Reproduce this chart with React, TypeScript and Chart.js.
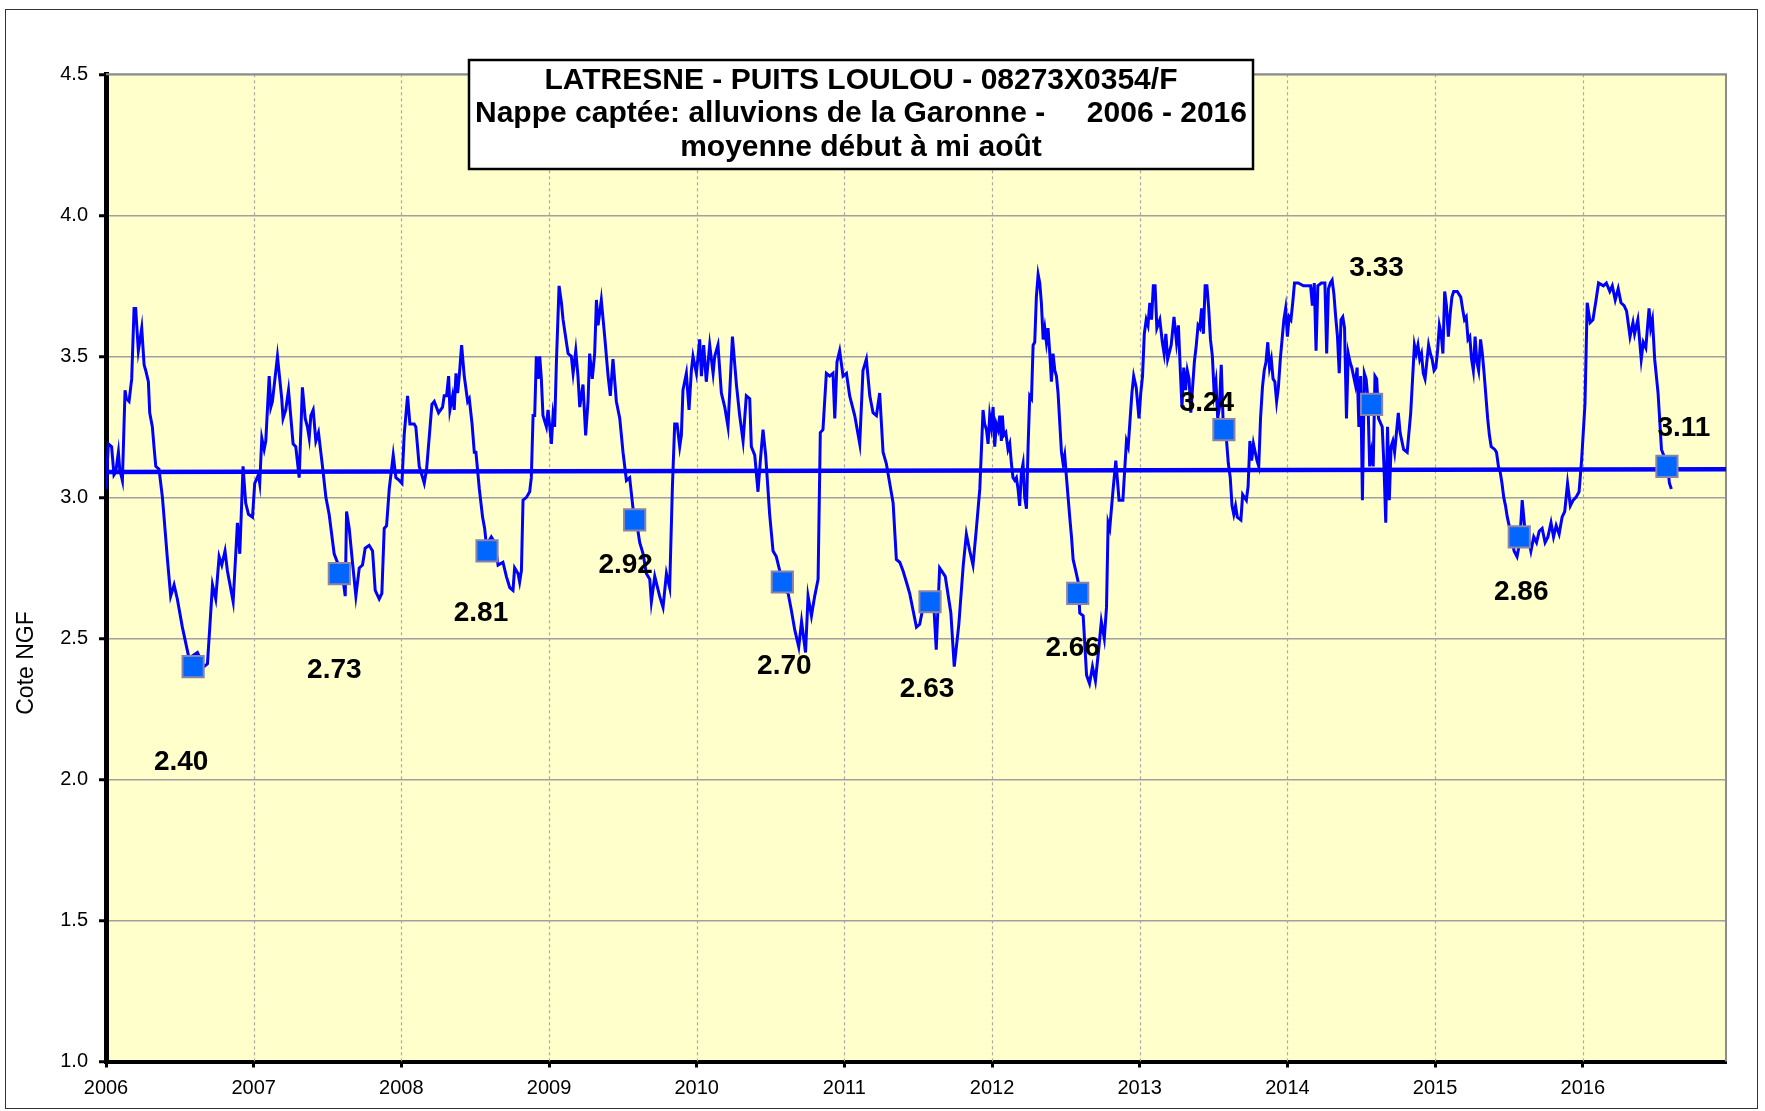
import React, { useEffect, useRef } from 'react';
import { Chart, registerables } from 'chart.js';

Chart.register(...registerables);

// ---- groundwater level series (decimal year, NGF level) ----
const levels2006: [number, number][] = [
  [2006.000, 3.03], [2006.016, 3.19], [2006.038, 3.18], [2006.054, 3.08], [2006.066, 3.09],
  [2006.084, 3.16], [2006.093, 3.10], [2006.111, 3.06], [2006.129, 3.38], [2006.138, 3.35],
  [2006.156, 3.34], [2006.174, 3.42], [2006.190, 3.67], [2006.201, 3.67], [2006.219, 3.52],
  [2006.228, 3.55], [2006.242, 3.60], [2006.258, 3.47], [2006.269, 3.45], [2006.287, 3.41],
  [2006.296, 3.30], [2006.314, 3.25], [2006.325, 3.18], [2006.337, 3.11], [2006.359, 3.10],
  [2006.382, 3.00], [2006.393, 2.93], [2006.416, 2.78], [2006.438, 2.65], [2006.461, 2.69],
  [2006.483, 2.64], [2006.517, 2.54], [2006.562, 2.43], [2006.619, 2.45], [2006.664, 2.40],
  [2006.687, 2.41], [2006.721, 2.69], [2006.743, 2.64], [2006.766, 2.79], [2006.784, 2.76],
  [2006.806, 2.81], [2006.822, 2.74], [2006.861, 2.63], [2006.890, 2.91], [2006.906, 2.80],
  [2006.928, 3.11], [2006.946, 2.98], [2006.965, 2.94], [2006.992, 2.93],
];
const levels2007: [number, number][] = [
  [2007.007, 3.05], [2007.032, 3.08], [2007.041, 3.05], [2007.055, 3.21], [2007.071, 3.17],
  [2007.082, 3.20], [2007.105, 3.43], [2007.116, 3.32], [2007.127, 3.34], [2007.161, 3.50],
  [2007.190, 3.35], [2007.199, 3.28], [2007.217, 3.31], [2007.236, 3.38], [2007.267, 3.19],
  [2007.285, 3.18], [2007.308, 3.07], [2007.330, 3.39], [2007.349, 3.28], [2007.364, 3.25],
  [2007.376, 3.21], [2007.387, 3.29], [2007.403, 3.31], [2007.421, 3.20], [2007.439, 3.23],
  [2007.466, 3.11], [2007.489, 3.00], [2007.511, 2.94], [2007.545, 2.80], [2007.574, 2.76],
  [2007.597, 2.74], [2007.620, 2.65], [2007.629, 2.95], [2007.647, 2.89], [2007.669, 2.77],
  [2007.692, 2.65], [2007.715, 2.75], [2007.737, 2.76], [2007.755, 2.82], [2007.782, 2.83],
  [2007.805, 2.81], [2007.823, 2.67], [2007.850, 2.64], [2007.868, 2.66], [2007.884, 2.89],
  [2007.900, 2.90], [2007.918, 3.03], [2007.945, 3.15], [2007.963, 3.07], [2007.986, 3.06],
];
const levels2008: [number, number][] = [
  [2008.004, 3.05], [2008.019, 3.22], [2008.042, 3.36], [2008.058, 3.26], [2008.087, 3.26],
  [2008.098, 3.25], [2008.121, 3.11], [2008.144, 3.07], [2008.155, 3.05], [2008.171, 3.10],
  [2008.207, 3.33], [2008.223, 3.34], [2008.252, 3.30], [2008.279, 3.32], [2008.290, 3.36],
  [2008.306, 3.36], [2008.320, 3.43], [2008.329, 3.31], [2008.347, 3.36], [2008.358, 3.31],
  [2008.370, 3.44], [2008.381, 3.37], [2008.392, 3.43], [2008.408, 3.54], [2008.426, 3.43],
  [2008.449, 3.34], [2008.460, 3.35], [2008.479, 3.26], [2008.494, 3.16], [2008.505, 3.16],
  [2008.528, 3.03], [2008.550, 2.93], [2008.564, 2.89], [2008.576, 2.83], [2008.609, 2.86],
  [2008.632, 2.84], [2008.655, 2.76], [2008.688, 2.77], [2008.711, 2.72], [2008.734, 2.68],
  [2008.756, 2.67], [2008.767, 2.75], [2008.790, 2.73], [2008.801, 2.70], [2008.813, 2.74],
  [2008.824, 2.99], [2008.847, 3.00], [2008.869, 3.02], [2008.880, 3.07], [2008.892, 3.29],
  [2008.903, 3.29], [2008.914, 3.50], [2008.926, 3.42], [2008.937, 3.50], [2008.948, 3.42],
  [2008.959, 3.29], [2008.982, 3.25], [2008.993, 3.31],
];
const levels2009: [number, number][] = [
  [2009.005, 3.25], [2009.016, 3.19], [2009.027, 3.29], [2009.038, 3.25], [2009.050, 3.48],
  [2009.068, 3.75], [2009.084, 3.69], [2009.095, 3.63], [2009.129, 3.51], [2009.151, 3.50],
  [2009.163, 3.44], [2009.181, 3.52], [2009.196, 3.43], [2009.208, 3.32], [2009.230, 3.40],
  [2009.248, 3.22], [2009.264, 3.34], [2009.275, 3.51], [2009.293, 3.42], [2009.309, 3.51],
  [2009.321, 3.70], [2009.332, 3.61], [2009.354, 3.70], [2009.377, 3.57], [2009.400, 3.43],
  [2009.415, 3.36], [2009.433, 3.49], [2009.456, 3.34], [2009.479, 3.28], [2009.501, 3.16],
  [2009.524, 3.06], [2009.546, 3.07], [2009.569, 2.96], [2009.591, 2.92], [2009.614, 2.84],
  [2009.637, 2.80], [2009.659, 2.73], [2009.682, 2.71], [2009.693, 2.63], [2009.716, 2.72],
  [2009.749, 2.65], [2009.772, 2.61], [2009.795, 2.73], [2009.817, 2.68], [2009.835, 3.03],
  [2009.851, 3.26], [2009.867, 3.26], [2009.885, 3.18], [2009.896, 3.22], [2009.907, 3.38],
  [2009.930, 3.44], [2009.948, 3.31], [2009.964, 3.45], [2009.975, 3.50], [2009.998, 3.44],
];
const levels2010: [number, number][] = [
  [2010.020, 3.56], [2010.032, 3.43], [2010.047, 3.54], [2010.065, 3.41], [2010.088, 3.54],
  [2010.111, 3.44], [2010.122, 3.50], [2010.144, 3.54], [2010.167, 3.37], [2010.190, 3.32],
  [2010.212, 3.25], [2010.242, 3.57], [2010.269, 3.40], [2010.291, 3.29], [2010.314, 3.20],
  [2010.336, 3.36], [2010.359, 3.35], [2010.370, 3.18], [2010.393, 3.15], [2010.415, 3.02],
  [2010.431, 3.13], [2010.449, 3.24], [2010.467, 3.15], [2010.494, 2.94], [2010.517, 2.81],
  [2010.539, 2.79], [2010.562, 2.74], [2010.596, 2.67], [2010.619, 2.66], [2010.641, 2.60],
  [2010.664, 2.53], [2010.691, 2.47], [2010.710, 2.56], [2010.737, 2.45], [2010.754, 2.65],
  [2010.777, 2.58], [2010.799, 2.65], [2010.822, 2.71], [2010.837, 3.23], [2010.855, 3.24],
  [2010.878, 3.44], [2010.901, 3.43], [2010.923, 3.44], [2010.935, 3.28], [2010.950, 3.48],
  [2010.968, 3.52], [2010.991, 3.43],
];
const levels2011: [number, number][] = [
  [2011.014, 3.44], [2011.036, 3.36], [2011.070, 3.29], [2011.104, 3.19], [2011.126, 3.45],
  [2011.149, 3.49], [2011.172, 3.36], [2011.194, 3.30], [2011.217, 3.29], [2011.239, 3.37],
  [2011.262, 3.16], [2011.284, 3.12], [2011.307, 3.05], [2011.330, 2.98], [2011.352, 2.78],
  [2011.375, 2.77], [2011.397, 2.74], [2011.420, 2.70], [2011.442, 2.66], [2011.465, 2.60],
  [2011.488, 2.54], [2011.510, 2.55], [2011.544, 2.64], [2011.601, 2.66], [2011.622, 2.46],
  [2011.645, 2.75], [2011.683, 2.72], [2011.721, 2.59], [2011.744, 2.40], [2011.775, 2.55],
  [2011.805, 2.76], [2011.826, 2.87], [2011.849, 2.81], [2011.871, 2.76], [2011.894, 2.89],
  [2011.917, 3.03], [2011.939, 3.31], [2011.950, 3.26], [2011.962, 3.24], [2011.973, 3.19],
  [2011.984, 3.29], [2011.995, 3.25],
];
const levels2012: [number, number][] = [
  [2012.007, 3.32], [2012.018, 3.18], [2012.029, 3.26], [2012.041, 3.24], [2012.052, 3.29],
  [2012.063, 3.20], [2012.070, 3.29], [2012.079, 3.22], [2012.093, 3.23], [2012.108, 3.17],
  [2012.120, 3.19], [2012.131, 3.12], [2012.142, 3.07], [2012.154, 3.06], [2012.165, 3.07],
  [2012.176, 3.03], [2012.187, 2.97], [2012.199, 3.09], [2012.210, 3.12], [2012.221, 3.00],
  [2012.233, 2.96], [2012.244, 3.18], [2012.255, 3.36], [2012.267, 3.35], [2012.278, 3.54],
  [2012.289, 3.55], [2012.300, 3.71], [2012.312, 3.79], [2012.323, 3.76], [2012.334, 3.69],
  [2012.346, 3.56], [2012.357, 3.60], [2012.368, 3.55], [2012.379, 3.60], [2012.391, 3.51],
  [2012.402, 3.41], [2012.413, 3.51], [2012.425, 3.45], [2012.436, 3.43], [2012.447, 3.37],
  [2012.459, 3.26], [2012.470, 3.16], [2012.481, 3.12], [2012.492, 3.15], [2012.504, 3.07],
  [2012.515, 3.00], [2012.526, 2.93], [2012.538, 2.86], [2012.549, 2.78], [2012.571, 2.73],
  [2012.583, 2.70], [2012.594, 2.59], [2012.617, 2.58], [2012.640, 2.37], [2012.660, 2.34],
  [2012.680, 2.40], [2012.700, 2.35], [2012.720, 2.45], [2012.740, 2.56], [2012.760, 2.50],
  [2012.775, 2.61], [2012.786, 2.91], [2012.797, 2.89], [2012.820, 3.03], [2012.838, 3.13],
  [2012.860, 2.99], [2012.886, 2.99], [2012.910, 3.20], [2012.922, 3.18], [2012.947, 3.37],
  [2012.959, 3.43], [2012.976, 3.39], [2012.995, 3.28],
];
const levels2013: [number, number][] = [
  [2013.007, 3.37], [2013.019, 3.43], [2013.031, 3.58], [2013.044, 3.63], [2013.056, 3.61],
  [2013.068, 3.69], [2013.080, 3.63], [2013.092, 3.75], [2013.104, 3.75], [2013.116, 3.60],
  [2013.136, 3.63], [2013.153, 3.55], [2013.165, 3.51], [2013.177, 3.58], [2013.189, 3.49],
  [2013.213, 3.54], [2013.232, 3.64], [2013.249, 3.55], [2013.262, 3.61], [2013.274, 3.46],
  [2013.286, 3.32], [2013.298, 3.46], [2013.310, 3.38], [2013.322, 3.45], [2013.334, 3.42],
  [2013.346, 3.30], [2013.358, 3.39], [2013.370, 3.48], [2013.383, 3.54], [2013.395, 3.61],
  [2013.407, 3.60], [2013.419, 3.67], [2013.431, 3.58], [2013.443, 3.75], [2013.455, 3.75],
  [2013.467, 3.67], [2013.479, 3.56], [2013.492, 3.50], [2013.504, 3.37], [2013.516, 3.41],
  [2013.528, 3.28], [2013.540, 3.32], [2013.552, 3.47], [2013.564, 3.28], [2013.576, 3.24],
  [2013.588, 3.20], [2013.600, 3.12], [2013.613, 3.07], [2013.625, 2.97], [2013.637, 2.94],
  [2013.649, 2.97], [2013.661, 2.93], [2013.685, 2.92], [2013.697, 3.01], [2013.722, 2.99],
  [2013.734, 3.04], [2013.746, 3.20], [2013.758, 3.13], [2013.770, 3.19], [2013.782, 3.16],
  [2013.794, 3.13], [2013.806, 3.11], [2013.818, 3.28], [2013.831, 3.39], [2013.843, 3.45],
  [2013.855, 3.48], [2013.867, 3.55], [2013.879, 3.46], [2013.891, 3.49], [2013.903, 3.42],
  [2013.915, 3.41], [2013.927, 3.34], [2013.939, 3.39], [2013.952, 3.49], [2013.964, 3.56],
  [2013.976, 3.63], [2013.988, 3.67],
];
const levels2014: [number, number][] = [
  [2014.000, 3.57], [2014.012, 3.64], [2014.024, 3.63], [2014.036, 3.69], [2014.048, 3.76],
  [2014.073, 3.76], [2014.109, 3.75], [2014.133, 3.75], [2014.157, 3.75], [2014.169, 3.68],
  [2014.182, 3.76], [2014.194, 3.52], [2014.206, 3.75], [2014.230, 3.76], [2014.254, 3.76],
  [2014.266, 3.51], [2014.278, 3.74], [2014.291, 3.76], [2014.303, 3.77], [2014.315, 3.72],
  [2014.327, 3.64], [2014.339, 3.57], [2014.351, 3.44], [2014.363, 3.63], [2014.375, 3.64],
  [2014.387, 3.60], [2014.400, 3.28], [2014.412, 3.51], [2014.424, 3.48], [2014.436, 3.46],
  [2014.448, 3.43], [2014.460, 3.40], [2014.472, 3.46], [2014.484, 3.25], [2014.496, 3.43],
  [2014.508, 2.99], [2014.521, 3.44], [2014.533, 3.42], [2014.545, 3.35], [2014.557, 3.11],
  [2014.569, 3.16], [2014.581, 3.11], [2014.593, 3.43], [2014.605, 3.42], [2014.617, 3.28],
  [2014.642, 3.25], [2014.654, 3.11], [2014.666, 2.91], [2014.678, 3.25], [2014.690, 2.99],
  [2014.702, 3.18], [2014.714, 3.20], [2014.726, 3.16], [2014.751, 3.30], [2014.763, 3.23],
  [2014.787, 3.17], [2014.811, 3.16], [2014.835, 3.30], [2014.860, 3.54], [2014.872, 3.51],
  [2014.884, 3.54], [2014.896, 3.49], [2014.908, 3.51], [2014.920, 3.44], [2014.932, 3.42],
  [2014.956, 3.54], [2014.968, 3.51], [2014.980, 3.49], [2014.993, 3.45],
];
const levels2015: [number, number][] = [
  [2015.005, 3.46], [2015.017, 3.52], [2015.029, 3.61], [2015.041, 3.58], [2015.053, 3.51],
  [2015.065, 3.73], [2015.077, 3.68], [2015.090, 3.57], [2015.102, 3.65], [2015.114, 3.71],
  [2015.126, 3.73], [2015.150, 3.73], [2015.174, 3.71], [2015.186, 3.67], [2015.199, 3.63],
  [2015.211, 3.64], [2015.223, 3.56], [2015.235, 3.57], [2015.247, 3.49], [2015.259, 3.45],
  [2015.271, 3.57], [2015.283, 3.48], [2015.295, 3.45], [2015.308, 3.56], [2015.320, 3.51],
  [2015.332, 3.44], [2015.344, 3.36], [2015.356, 3.28], [2015.368, 3.22], [2015.380, 3.18],
  [2015.404, 3.17], [2015.416, 3.16], [2015.429, 3.11], [2015.441, 3.09], [2015.453, 3.05],
  [2015.465, 3.00], [2015.477, 2.97], [2015.489, 2.93], [2015.510, 2.88], [2015.535, 2.81],
  [2015.555, 2.79], [2015.573, 2.84], [2015.590, 2.99], [2015.611, 2.87], [2015.630, 2.86],
  [2015.649, 2.81], [2015.668, 2.86], [2015.687, 2.84], [2015.705, 2.88], [2015.725, 2.89],
  [2015.745, 2.84], [2015.764, 2.86], [2015.785, 2.91], [2015.802, 2.86], [2015.820, 2.90],
  [2015.840, 2.87], [2015.860, 2.93], [2015.878, 2.95], [2015.897, 3.05], [2015.916, 2.97],
  [2015.935, 2.99], [2015.954, 3.00], [2015.975, 3.02], [2015.992, 3.13],
];
const levels2016: [number, number][] = [
  [2016.015, 3.33], [2016.030, 3.69], [2016.050, 3.62], [2016.069, 3.63], [2016.090, 3.70],
  [2016.107, 3.76], [2016.140, 3.75], [2016.160, 3.76], [2016.183, 3.73], [2016.200, 3.75],
  [2016.220, 3.70], [2016.240, 3.74], [2016.259, 3.69], [2016.280, 3.68], [2016.297, 3.66],
  [2016.320, 3.57], [2016.340, 3.62], [2016.351, 3.58], [2016.373, 3.63], [2016.396, 3.49],
  [2016.410, 3.55], [2016.427, 3.53], [2016.449, 3.67], [2016.460, 3.60], [2016.472, 3.63],
  [2016.487, 3.49], [2016.510, 3.37], [2016.533, 3.17], [2016.555, 3.14], [2016.575, 3.11],
  [2016.587, 3.05], [2016.600, 3.03],
];

// ---- early/mid August averages ----
const augustDates = [2006.59, 2007.58, 2008.58, 2009.58, 2010.58, 2011.58, 2012.58, 2013.57, 2014.57, 2015.57, 2016.57];
const augustValues = [2.40, 2.73, 2.81, 2.92, 2.70, 2.63, 2.66, 3.24, 3.33, 2.86, 3.11];

// ---- reference (mean) line ----
const meanDates = [2006.0, 2016.97];
const meanValues = [3.09, 3.10];

// ---- axes ----
const yearTicks = [2006, 2007, 2008, 2009, 2010, 2011, 2012, 2013, 2014, 2015, 2016];
const levelTicks = [1.0, 1.5, 2.0, 2.5, 3.0, 3.5, 4.0, 4.5];
const xMin = 2006;
const xMax = 2016.97;

const titleLines = [
  'LATRESNE - PUITS LOULOU - 08273X0354/F',
  'Nappe captée: alluvions de la Garonne -     2006 - 2016',
  'moyenne début à mi août',
];
const yAxisTitle = 'Cote NGF';

// label placement offsets (pixels) relative to each August marker
const labelOffsets: [number, number][] = [
  [-12, 96], [-5, 97], [-6, 62], [-9, 45], [2, 84], [-3, 88], [-5, 55], [-17, -26], [5, -136], [2, 55], [17, -38],
];

const FONT = '"Liberation Sans", Arial, sans-serif';

const decorPlugin = {
  id: 'decor',
  beforeDraw(chart: any) {
    const { ctx, chartArea, width, height } = chart;
    ctx.save();
    ctx.fillStyle = '#FFFFFF';
    ctx.fillRect(0, 0, width, height);
    ctx.fillStyle = '#FFFFCC';
    ctx.fillRect(chartArea.left, chartArea.top, chartArea.right - chartArea.left, chartArea.bottom - chartArea.top);
    ctx.restore();
  },
  beforeDatasetsDraw(chart: any) {
    const { ctx, chartArea } = chart;
    const xs = chart.scales.x;
    ctx.save();
    ctx.strokeStyle = '#A8A8A8';
    ctx.lineWidth = 1.2;
    ctx.setLineDash([3, 3]);
    yearTicks.forEach((yr) => {
      if (yr === xMin) return;
      const px = Math.round(xs.getPixelForValue(yr)) + 0.5;
      ctx.beginPath();
      ctx.moveTo(px, chartArea.top);
      ctx.lineTo(px, chartArea.bottom);
      ctx.stroke();
    });
    ctx.setLineDash([]);
    ctx.strokeStyle = '#8C8C8C';
    ctx.lineWidth = 2;
    ctx.beginPath();
    ctx.moveTo(chartArea.left, chartArea.top);
    ctx.lineTo(chartArea.right, chartArea.top);
    ctx.lineTo(chartArea.right, chartArea.bottom);
    ctx.stroke();
    ctx.restore();
  },
  afterDatasetsDraw(chart: any) {
    const { ctx } = chart;
    const xs = chart.scales.x;
    const ys = chart.scales.y;
    ctx.save();
    ctx.font = `bold 28px ${FONT}`;
    ctx.fillStyle = '#000000';
    ctx.textAlign = 'center';
    ctx.textBaseline = 'middle';
    augustValues.forEach((v, i) => {
      const px = xs.getPixelForValue(augustDates[i]) + labelOffsets[i][0];
      const py = ys.getPixelForValue(v) + labelOffsets[i][1];
      ctx.fillText(v.toFixed(2), px, py);
    });
    ctx.restore();
  },
  afterDraw(chart: any) {
    const { ctx } = chart;
    ctx.save();
    // outer frame
    ctx.strokeStyle = '#333333';
    ctx.lineWidth = 1;
    ctx.strokeRect(5.5, 9.5, 1752, 1099);
    // title box
    const bx = 469, by = 60, bw = 784, bh = 109;
    ctx.fillStyle = '#FFFFFF';
    ctx.fillRect(bx, by, bw, bh);
    ctx.strokeStyle = '#000000';
    ctx.lineWidth = 2.5;
    ctx.strokeRect(bx, by, bw, bh);
    ctx.fillStyle = '#000000';
    ctx.font = `bold 30px ${FONT}`;
    ctx.textAlign = 'center';
    ctx.textBaseline = 'middle';
    const cx = bx + bw / 2;
    const lineYs = [81, 114, 147.5];
    titleLines.forEach((t, i) => ctx.fillText(t, cx, lineYs[i]));
    // y axis title
    ctx.translate(27, 663);
    ctx.rotate(-Math.PI / 2);
    ctx.font = `23px ${FONT}`;
    ctx.fillText(yAxisTitle, 0, 0);
    ctx.restore();
  },
};

export default function App() {
  const canvasRef = useRef<HTMLCanvasElement | null>(null);

  useEffect(() => {
    document.body.style.margin = '0';
    const canvas = canvasRef.current;
    if (!canvas) return;
    const levels = [
      ...levels2006, ...levels2007, ...levels2008, ...levels2009, ...levels2010, ...levels2011,
      ...levels2012, ...levels2013, ...levels2014, ...levels2015, ...levels2016,
    ].map(([x, y]) => ({ x, y }));

    const chart = new Chart(canvas, {
      type: 'line',
      data: {
        datasets: [
          {
            label: 'Moyenne début à mi août',
            data: augustDates.map((x, i) => ({ x, y: augustValues[i] })),
            showLine: false,
            pointStyle: 'rect',
            pointRadius: 15,
            pointHoverRadius: 15,
            pointBackgroundColor: '#0066FF',
            pointBorderColor: '#8A84A8',
            pointBorderWidth: 2,
            order: 0,
          },
          {
            label: 'Moyenne',
            data: meanDates.map((x, i) => ({ x, y: meanValues[i] })),
            borderColor: '#0000FF',
            borderWidth: 4.5,
            pointRadius: 0,
            order: 1,
          },
          {
            label: 'Cote NGF',
            data: levels,
            borderColor: '#0000FF',
            borderWidth: 3,
            pointRadius: 0,
            tension: 0,
            order: 2,
          },
        ],
      } as any,
      options: {
        animation: false,
        responsive: false,
        events: [],
        layout: { padding: { left: 0, right: 39, top: 74.3, bottom: 0 } },
        plugins: { legend: { display: false }, tooltip: { enabled: false }, title: { display: false } },
        scales: {
          x: {
            type: 'linear',
            min: xMin,
            max: xMax,
            afterBuildTicks: (s: any) => { s.ticks = yearTicks.map((v) => ({ value: v })); },
            afterFit: (s: any) => { s.height = 49.5; },
            ticks: {
              callback: (v: any) => String(v),
              font: { family: FONT, size: 20 },
              color: '#000000',
              padding: 9,
              maxRotation: 0,
              autoSkip: false,
            },
            grid: { drawOnChartArea: false, drawTicks: true, tickLength: 6, tickWidth: 3, tickColor: '#000000' },
            border: { display: true, color: '#000000', width: 4 },
          },
          y: {
            type: 'linear',
            min: 1,
            max: 4.5,
            afterBuildTicks: (s: any) => { s.ticks = levelTicks.map((v) => ({ value: v })); },
            afterFit: (s: any) => { s.width = 106; },
            ticks: {
              callback: (v: any) => Number(v).toFixed(1),
              font: { family: FONT, size: 20 },
              color: '#000000',
              padding: 11,
            },
            grid: { color: '#A0A0A0', lineWidth: 1.5, tickColor: '#000000', tickLength: 7, tickWidth: 3 },
            border: { display: true, color: '#000000', width: 5 },
          },
        },
      } as any,
      plugins: [decorPlugin],
    });
    return () => chart.destroy();
  }, []);

  return (
    <div style={{ width: 1765, height: 1111, position: 'relative' }}>
      <canvas ref={canvasRef} width={1765} height={1111} style={{ display: 'block', width: 1765, height: 1111 }} />
    </div>
  );
}
